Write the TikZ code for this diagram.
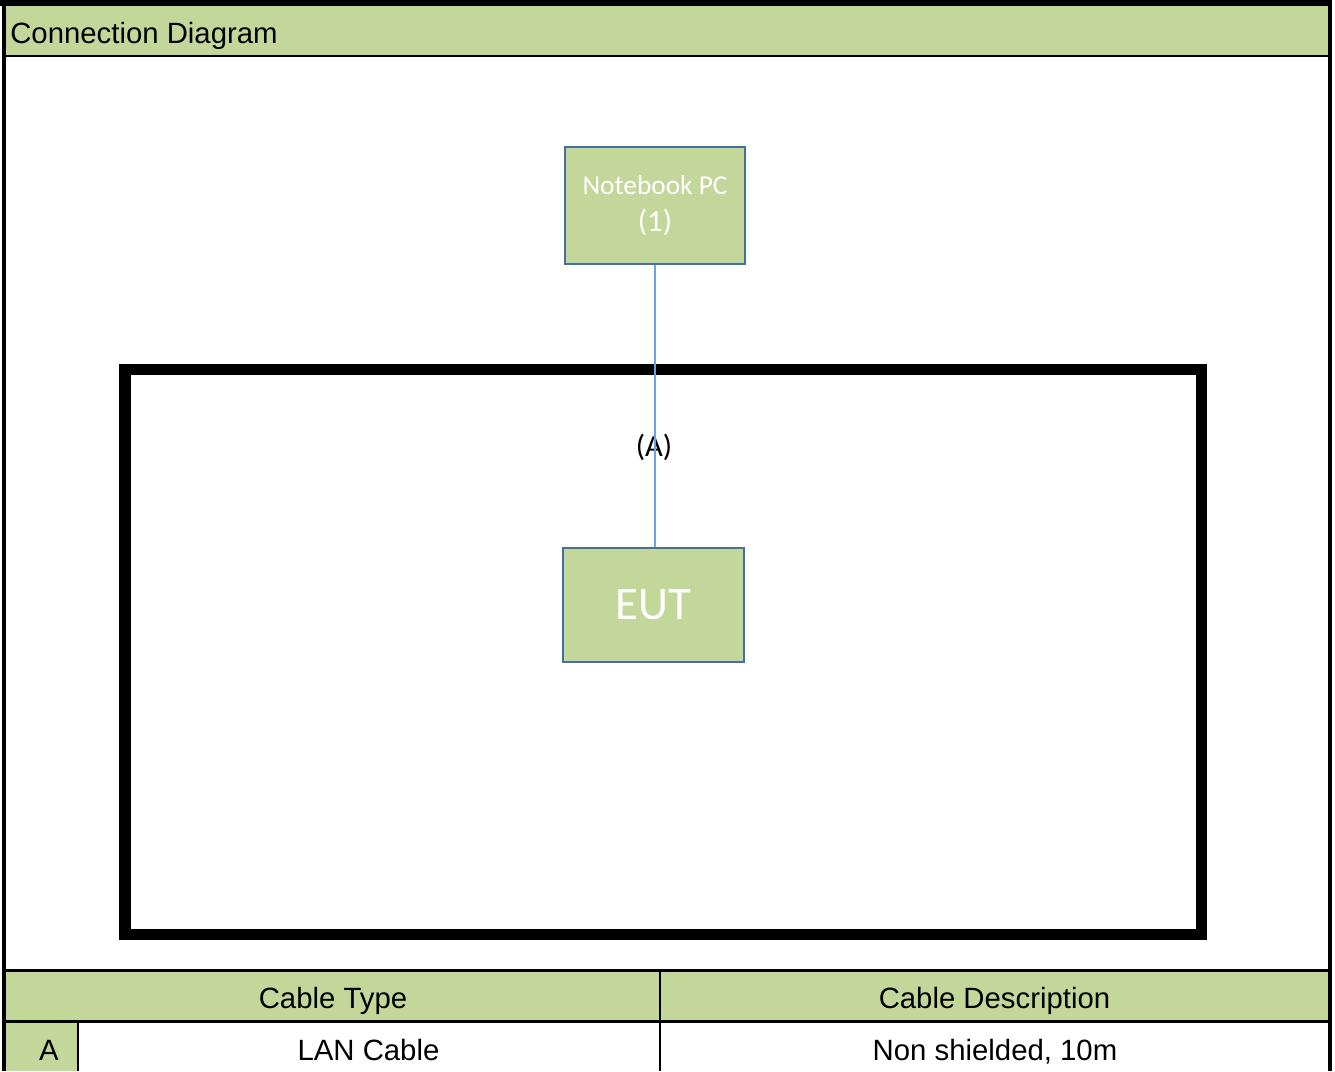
\documentclass[tikz,border=0pt]{standalone}
\usepackage{fontspec}
\setmainfont{Liberation Sans}
\newfontfamily\calib{Carlito}
\definecolor{hdrgreen}{RGB}{196,215,155}
\definecolor{boxedge}{RGB}{65,113,156}
\definecolor{cableblue}{RGB}{107,163,218}
\begin{document}
\begin{tikzpicture}[x=0.75pt,y=-0.75pt,
  tabtext/.style={font=\fontsize{22}{26}\selectfont, text=black, inner sep=0pt, anchor=base},
  devbox/.style={draw=boxedge, line width=1.2pt, fill=hdrgreen, text=white, inner sep=0pt, align=center},
  rule/.style={black, line width=2.2pt},
  frame/.style={black, line width=3.2pt}]
\useasboundingbox (0,0) rectangle (1335,1071);
\fill[white] (0,0) rectangle (1335,1071);
% green fills
\fill[hdrgreen] (4,3) rectangle (1330,56);
\fill[hdrgreen] (4,971) rectangle (1330,1021);
\fill[hdrgreen] (4,1021) rectangle (78,1071);
% table rules
\draw[rule] (4,56) -- (1330,56);
\draw[rule] (4,970.5) -- (1330,970.5);
\draw[rule] (4,1021.5) -- (1330,1021.5);
\draw[rule] (660,970) -- (660,1071);
\draw[rule] (78,1021) -- (78,1071);
% outer frame
\draw[frame] (4,0) -- (4,1071);
\draw[frame] (1330,0) -- (1330,1071);
\draw[black, line width=4.5pt] (0,3) -- (1332,3);
% texts of header and table
\node[tabtext, anchor=base west] (title) at (10,43.5) {Connection Diagram};
\node[tabtext] (ctype) at (333,1008) {Cable Type};
\node[tabtext] (cdesc) at (994.5,1008) {Cable Description};
\node[tabtext] (rowA) at (49,1060.5) {A};
\node[tabtext] (lan) at (368.5,1060.5) {LAN Cable};
\node[tabtext] (desc) at (995,1060.5) {Non shielded, 10m};
% test area rectangle
\draw[black, line width=8.6pt] (125,369.5) rectangle (1201.5,934.5);
% devices
\node[devbox, minimum width=135pt, minimum height=87.75pt,
      font=\calib\fontsize{20.5}{27.75}\selectfont] (nb) at (655,205.5) {Notebook PC\\{\fontsize{23}{27.75}\selectfont (1)}};
\node[devbox, minimum width=135.75pt, minimum height=85.5pt,
      font=\calib\fontsize{35}{40}\selectfont] (eut) at (653.5,605) {EUT};
% cable label and cable
\node[font=\calib\fontsize{23}{27}\selectfont, text=black, inner sep=0pt] (lblA) at (654,447) {(A)};
\draw[cableblue, line width=1.3pt] (nb.south) -- (nb.south |- eut.north);
\end{tikzpicture}
\end{document}
